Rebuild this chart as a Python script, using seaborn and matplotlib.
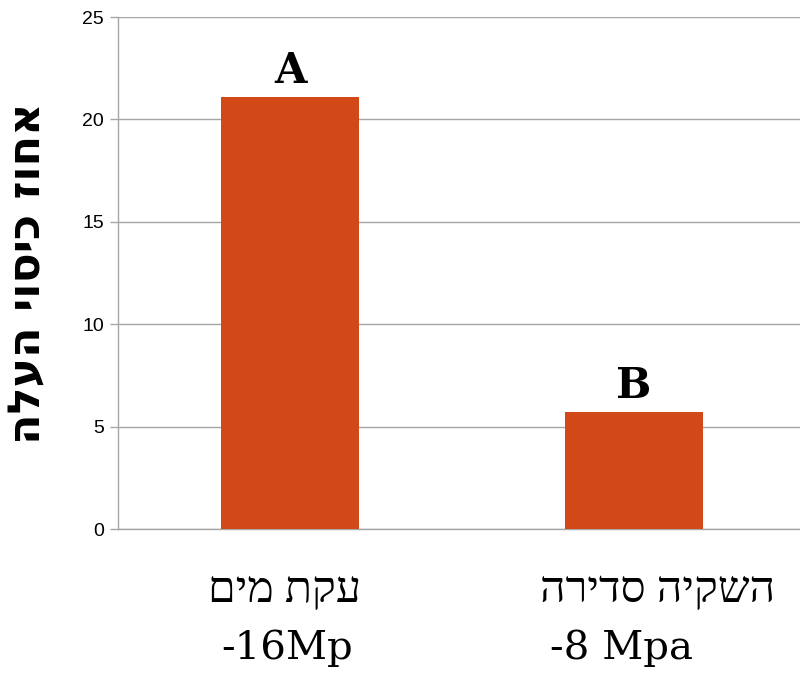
import matplotlib
matplotlib.use("Agg")
import matplotlib.pyplot as plt
import seaborn as sns
import pandas as pd

# Data
categories = ["עקת מים", "השקיה סדירה"]
pressures = ["-16Mp", "-8 Mpa"]
coverage = [21.1, 5.7]
letters = ["A", "B"]
y_ticks = [0, 5, 10, 15, 20, 25]
y_label = "אחוז כיסוי העלה"


def visual(s):
    """Hebrew is right-to-left; matplotlib lays glyphs out left-to-right."""
    return s[::-1]


sns.set_theme(style="white")
plt.rcParams["font.family"] = ["Liberation Sans", "DejaVu Sans"]

df = pd.DataFrame({"category": categories, "coverage": coverage})

fig = plt.figure(figsize=(8, 6.74), dpi=100)
ax = fig.add_axes([118 / 800, 145 / 674, 688 / 800, 512 / 674])

sns.barplot(data=df, x="category", y="coverage", order=categories,
            color="#D34817", saturation=1, width=0.4, ax=ax, zorder=3,
            edgecolor="none", linewidth=0)

grey = "#a6a6a6"
ax.set_ylim(0, 25)
ax.set_yticks(y_ticks)
ax.set_yticklabels([str(t) for t in y_ticks], fontsize=14, color="black")
ax.yaxis.grid(True, color=grey, linewidth=1, zorder=0)
ax.xaxis.grid(False)
ax.set_axisbelow(True)
for side in ("top", "right"):
    ax.spines[side].set_visible(False)
for side in ("left", "bottom"):
    ax.spines[side].set_color(grey)
    ax.spines[side].set_linewidth(1)
ax.tick_params(axis="y", length=6, width=1, color=grey, direction="out",
               pad=4, left=True, labelcolor="black")
ax.tick_params(axis="x", length=0)
ax.set_xticklabels([])
ax.set_xlabel("")

ax.set_ylabel(visual(y_label), fontsize=32, fontweight="bold", color="black",
              family=["DejaVu Sans"], labelpad=24)

# Significance letters above the bars
for i, (v, l) in enumerate(zip(coverage, letters)):
    ax.annotate(l, (i, v), xytext=(0, 14), textcoords="offset pixels",
                ha="center", va="baseline", fontsize=30, fontweight="bold",
                family=["DejaVu Serif"], color="black")

# Two-line category labels
line1_dx = [-6, 24]
line2_dx = [-3, -13]
for i, (cat, p) in enumerate(zip(categories, pressures)):
    ax.annotate(visual(cat), xy=(i, 0), xycoords=("data", "axes fraction"),
                xytext=(line1_dx[i], -73), textcoords="offset pixels",
                ha="center", va="baseline", fontsize=32,
                family=["Liberation Serif", "DejaVu Serif", "DejaVu Sans"],
                color="black", annotation_clip=False)
    ax.annotate(p, xy=(i, 0), xycoords=("data", "axes fraction"),
                xytext=(line2_dx[i], -130), textcoords="offset pixels",
                ha="center", va="baseline", fontsize=29,
                family=["DejaVu Serif"], color="black", annotation_clip=False)

fig.savefig("out.png", dpi=100)
